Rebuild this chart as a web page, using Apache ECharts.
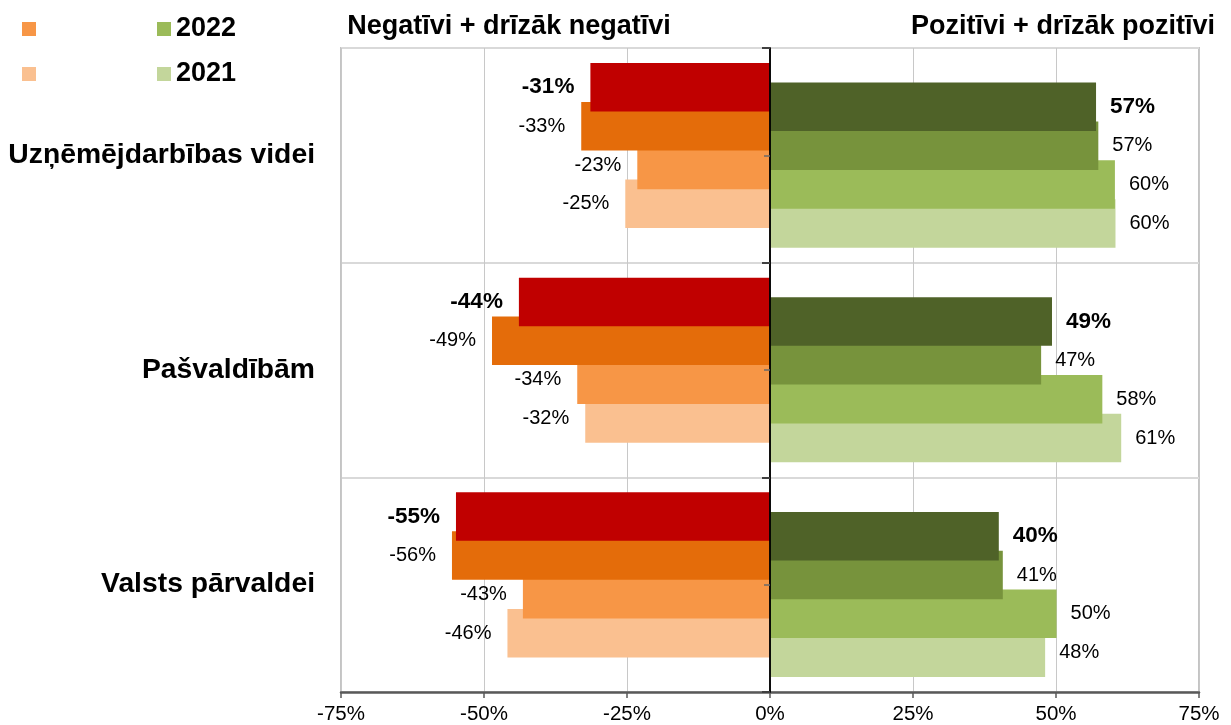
<!DOCTYPE html>
<html>
<head>
<meta charset="utf-8">
<script src="https://cdn.jsdelivr.net/npm/echarts@6/dist/echarts.min.js"></script>
<style>
html,body{margin:0;padding:0;background:#fff}
#c{width:1231px;height:725px}
</style>
</head>
<body>
<div id="c"></div>
<script>
// ---- data ----
const categories = ['Uzņēmējdarbības videi', 'Pašvaldībām', 'Valsts pārvaldei'];
const neg2024 = [-31.4, -43.9, -54.9];
const neg2023 = [-33.0, -48.6, -55.6];
const neg2022 = [-23.2, -33.7, -43.2];
const neg2021 = [-25.3, -32.3, -45.9];
const pos2024 = [57.0, 49.3, 40.0];
const pos2023 = [57.4, 47.4, 40.7];
const pos2022 = [60.3, 58.1, 50.1];
const pos2021 = [60.4, 61.4, 48.1];
const xTicks = { min: -75, max: 75, interval: 25 };
const headNeg = 'Negatīvi + drīzāk negatīvi';
const headPos = 'Pozitīvi + drīzāk pozitīvi';

// ---- layout/style ----
const FONT = '"Liberation Sans", Arial, Helvetica, sans-serif';
const BAR_H = 0.226;   // bar thickness as fraction of category band
const STEP = 0.181;    // step between overlapping bars (fraction of band)
const NEG_TOP = -0.43; // start of negative group relative to band centre
const POS_TOP = -0.339;

function barSeries(name, values, color, groupTop, slot, bold) {
  return {
    type: 'custom',
    name: name,
    coordinateSystem: 'cartesian2d',
    xAxisIndex: 0,
    yAxisIndex: 0,
    z: 10 - slot,
    itemStyle: { color: color },
    encode: { x: 0, y: 1 },
    data: values.map((v, i) => [v, i]),
    renderItem: function (params, api) {
      const v = api.value(0), c = api.value(1);
      const p0 = api.coord([0, c]);
      const p1 = api.coord([v, c]);
      const band = api.size([0, 1])[1];
      const h = BAR_H * band;
      const y = p0[1] + (groupTop + slot * STEP) * band;
      const x = Math.min(p0[0], p1[0]);
      const w = Math.abs(p1[0] - p0[0]);
      const neg = v < 0;
      return {
        type: 'group',
        children: [
          { type: 'rect', shape: { x: x, y: y, width: w, height: h }, style: { fill: color } },
          {
            type: 'text',
            x: neg ? p1[0] - 16 : p1[0] + 14,
            y: y + h / 2,
            style: {
              text: Math.round(v) + '%',
              fill: '#000',
              fontFamily: FONT,
              fontSize: bold ? 22.5 : 20,
              fontWeight: bold ? 'bold' : 'normal',
              align: neg ? 'right' : 'left',
              verticalAlign: 'middle'
            }
          }
        ]
      };
    }
  };
}

const chart = echarts.init(document.getElementById('c'), null, { renderer: 'canvas' });

const legendText = { fontFamily: FONT, fontSize: 27, fontWeight: 'bold', lineHeight: 30 };

chart.setOption({
  animation: false,
  backgroundColor: '#fff',
  textStyle: { fontFamily: FONT },
  grid: {
    left: 341, right: 32, top: 48, bottom: 33,
    show: true, borderColor: '#c4c4c4', borderWidth: 2,
    outerBoundsMode: 'none'
  },
  graphic: [
    { type: 'text', x: 509, y: 27, z: 100,
      style: { text: headNeg, fill: '#000', fontFamily: FONT, fontSize: 27, fontWeight: 'bold', align: 'center', verticalAlign: 'middle' } },
    { type: 'text', x: 1063, y: 27, z: 100,
      style: { text: headPos, fill: '#000', fontFamily: FONT, fontSize: 27, fontWeight: 'bold', align: 'center', verticalAlign: 'middle' } }
  ],
  legend: [
    {
      data: ['Negatīvi 2022', 'Negatīvi 2021'],
      orient: 'vertical', left: 22, top: 14, padding: 0,
      itemWidth: 14, itemHeight: 14, itemGap: 15, icon: 'rect',
      selectedMode: false,
      formatter: n => n.replace('Negatīvi ', ''),
      textStyle: Object.assign({ color: 'rgba(0,0,0,0)' }, legendText)
    },
    {
      data: ['Pozitīvi 2022', 'Pozitīvi 2021'],
      orient: 'vertical', left: 157, top: 14, padding: 0,
      itemWidth: 14, itemHeight: 14, itemGap: 15, icon: 'rect',
      selectedMode: false,
      formatter: n => n.replace('Pozitīvi ', ''),
      textStyle: Object.assign({ color: '#000' }, legendText)
    }
  ],
  xAxis: {
    type: 'value',
    min: xTicks.min, max: xTicks.max, interval: xTicks.interval,
    axisLine: { show: true, onZero: false, lineStyle: { color: '#595959', width: 2.5 } },
    axisTick: { show: true, length: 6, lineStyle: { color: '#595959', width: 1.5 } },
    axisLabel: { formatter: '{value}%', color: '#000', fontSize: 20.5, fontFamily: FONT, margin: 12 },
    splitLine: { show: true, lineStyle: { color: '#c8c8c8', width: 1 } }
  },
  yAxis: [
    {
      type: 'category', data: categories, inverse: true, position: 'left',
      axisLine: { show: false, onZero: false },
      axisTick: { show: false },
      axisLabel: { color: '#000', fontSize: 28.3, fontWeight: 'bold', fontFamily: FONT, margin: 26 },
      splitLine: { show: true, lineStyle: { color: '#d9d9d9', width: 2 } }
    },
    {
      type: 'category', data: categories, inverse: true, position: 'left', z: 20,
      axisLine: { show: true, onZero: true, onZeroAxisIndex: 0, lineStyle: { color: '#000', width: 1.5 } },
      axisTick: { show: true, alignWithLabel: false, length: 8, lineStyle: { color: '#404040', width: 2 } },
      axisLabel: { show: false },
      splitLine: { show: false }
    },
    {
      type: 'category', data: categories, inverse: true, position: 'left', z: 20,
      axisLine: { show: true, onZero: true, onZeroAxisIndex: 0, lineStyle: { color: '#000', width: 1.5 } },
      axisTick: { show: true, alignWithLabel: true, length: 6, lineStyle: { color: '#6a6a6a', width: 1.5 } },
      axisLabel: { show: false },
      splitLine: { show: false }
    }
  ],
  series: [
    barSeries('Negatīvi 2024', neg2024, '#c00000', NEG_TOP, 0, true),
    barSeries('Negatīvi 2023', neg2023, '#e46c0a', NEG_TOP, 1, false),
    barSeries('Negatīvi 2022', neg2022, '#f79646', NEG_TOP, 2, false),
    barSeries('Negatīvi 2021', neg2021, '#fac090', NEG_TOP, 3, false),
    barSeries('Pozitīvi 2024', pos2024, '#4f6228', POS_TOP, 0, true),
    barSeries('Pozitīvi 2023', pos2023, '#77933c', POS_TOP, 1, false),
    barSeries('Pozitīvi 2022', pos2022, '#9bbb59', POS_TOP, 2, false),
    barSeries('Pozitīvi 2021', pos2021, '#c3d69b', POS_TOP, 3, false)
  ]
});
</script>
</body>
</html>
